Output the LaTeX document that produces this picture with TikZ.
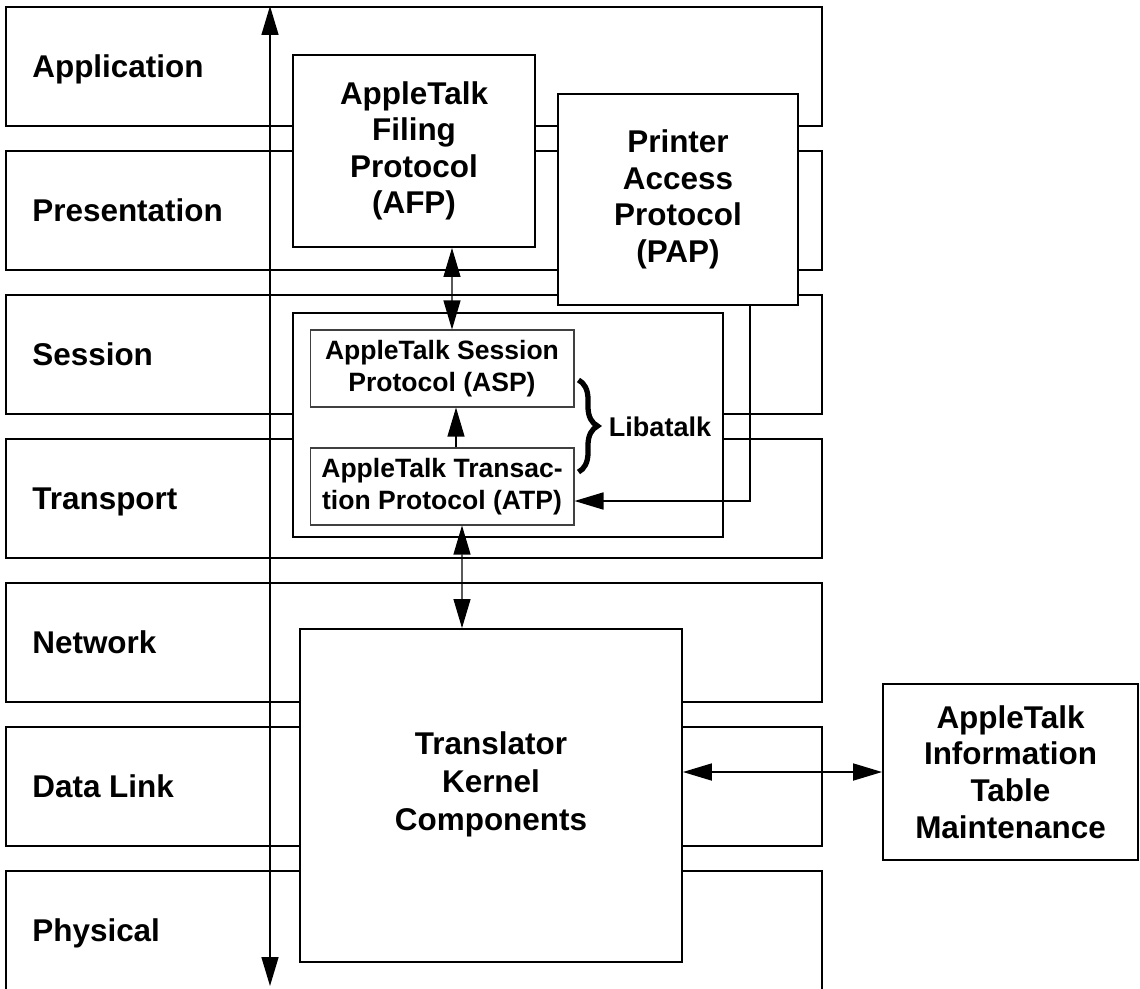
\documentclass[tikz,border=0pt]{standalone}
\usepackage{fontspec}
\setmainfont{Liberation Sans}
\usetikzlibrary{arrows.meta,decorations.pathreplacing}

\newcommand*{\layerLeft}{6}
\newcommand*{\layerRight}{822}
\newcommand*{\layerStep}{144}

\begin{document}
\begin{tikzpicture}[x=0.02cm, y=-0.02cm,
	>={Triangle[width=3.4mm,length=5.8mm]},
	layer/.style={line width=1.1pt},
	box/.style={draw, line width=1.1pt, fill=white, inner sep=0pt, align=center,
		font=\bfseries\fontsize{17.9pt}{20.8pt}\selectfont},
	smallbox/.style={draw=black!75, line width=0.6pt, fill=white, inner sep=0pt, align=center,
		font=\bfseries\fontsize{15.1pt}{18.2pt}\selectfont},
	layerlabel/.style={anchor=base west, inner sep=0pt,
		font=\bfseries\fontsize{17.9pt}{20.8pt}\selectfont},
	link/.style={line width=0.6pt},
]
	\useasboundingbox (0,0) rectangle (1140,988);
	\clip (0,0) rectangle (1140,988);

	% OSI layers
	\foreach \name [count=\i from 0] in {Application,Presentation,Session,Transport,Network,Data Link,Physical} {
		\draw [layer] (\layerLeft,{7+\layerStep*\i}) rectangle (\layerRight,{126+\layerStep*\i});
		\node [layerlabel] (layer\i) at (32,{77+\layerStep*\i}) {\name};
	}

	\node [box, minimum width=8.6cm, minimum height=4.48cm] (lib) at (508,425) {};
	\node [smallbox, minimum width=5.28cm, minimum height=1.54cm] (asp) at (442,368.5) {AppleTalk Session\\Protocol (ASP)};
	\node [smallbox, minimum width=5.28cm, minimum height=1.54cm] (atp) at (442,486.5) {AppleTalk Transac-\\tion Protocol (ATP)};
	\node [inner sep=0pt, font=\bfseries\fontsize{15.4pt}{18pt}\selectfont] (libtext) at (660,427) {Libatalk};

	\node [box, minimum width=4.84cm, minimum height=3.84cm] (afp) at (414,151) {AppleTalk\\Filing\\Protocol\\(AFP)};
	\node [box, minimum width=4.8cm, minimum height=4.22cm] (pap) at (678,199.5) {Printer\\Access\\Protocol\\(PAP)};
	\node [box, minimum width=7.64cm, minimum height=6.66cm] (tkc) at (491,795.5) {};
	\node [inner sep=0pt, align=center, font=\bfseries\fontsize{17.9pt}{21.6pt}\selectfont] (tkctext) at (491,784) {Translator\\Kernel\\Components};
	\node [box, minimum width=5.1cm, minimum height=3.52cm] (aitm) at (1010.5,772) {AppleTalk\\Information\\Table\\Maintenance};

	\draw [decorate, decoration={brace, amplitude=0.38cm}, line width=3pt]
		([xshift=0.08cm,yshift=-0.23cm]asp.east) -- ([xshift=0.08cm,yshift=0.29cm]atp.east);

	% connectors
	\coordinate (top) at (270,6);
	\coordinate (bottom) at (270,986);
	\draw [<->, line width=0.85pt] (top) -- (bottom);
	\draw [<->, link] ([xshift=0.76cm]afp.south) -- ([xshift=0.2cm]asp.north);
	\draw [->, link] ([xshift=0.28cm]atp.north) -- ([xshift=0.28cm]asp.south);
	\draw [<->, link] ([xshift=0.4cm]atp.south) -- ([xshift=-0.58cm]tkc.north);
	\draw [->, line width=1pt] ([xshift=1.44cm]pap.south) |- ([yshift=-0.29cm]atp.east);
	\draw [<->, line width=1pt] (tkc.east |- aitm.west) -- (aitm.west);
\end{tikzpicture}
\end{document}
